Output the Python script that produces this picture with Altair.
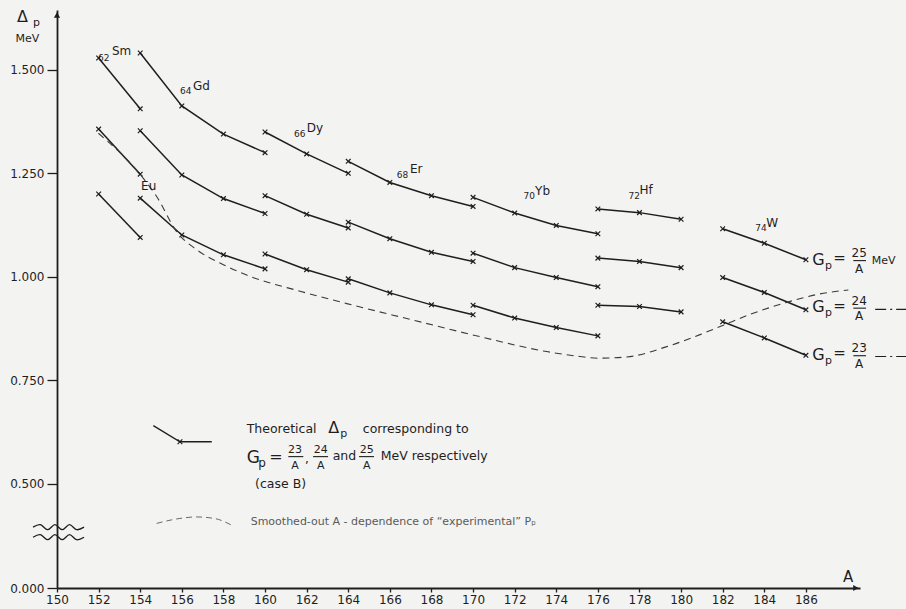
import altair as alt
import pandas as pd

INK = "#1e1e1e"
SOFT = "#5a5a5a"
FONT = "DejaVu Sans"

# Mass numbers of the calculated points, grouped by nucleus
A_SM = [152, 154]
A_GD = [154, 156, 158, 160]
A_DY = [160, 162, 164]
A_ER = [164, 166, 168, 170]
A_YB = [170, 172, 174, 176]
A_HF = [176, 178, 180]
A_W = [182, 184, 186]
NUCLEI = ["Sm", "Gd", "Dy", "Er", "Yb", "Hf", "W"]
A_GROUPS = [A_SM, A_GD, A_DY, A_ER, A_YB, A_HF, A_W]

# Theoretical pairing gap (MeV) for G_p = 25/A, 24/A, 23/A, same order as above
DELTA_25 = [1.529, 1.406,
            1.541, 1.413, 1.345, 1.300,
            1.350, 1.297, 1.250,
            1.279, 1.228, 1.196, 1.170,
            1.192, 1.154, 1.124, 1.104,
            1.164, 1.155, 1.139,
            1.116, 1.081, 1.041]
DELTA_24 = [1.357, 1.248,
            1.353, 1.246, 1.189, 1.153,
            1.196, 1.151, 1.118,
            1.132, 1.092, 1.059, 1.037,
            1.057, 1.022, 0.998, 0.976,
            1.045, 1.037, 1.022,
            0.998, 0.962, 0.920]
DELTA_23 = [1.200, 1.095,
            1.190, 1.101, 1.053, 1.019,
            1.055, 1.017, 0.987,
            0.995, 0.961, 0.932, 0.908,
            0.931, 0.900, 0.877, 0.857,
            0.931, 0.928, 0.915,
            0.891, 0.852, 0.810]

# Smoothed-out A-dependence of the experimental gap
EXP_A = [151.99, 154.15, 154.79, 155.75, 156.72, 157.84, 159.12, 161.68, 163.93,
         167.13, 170.34, 173.54, 175.14, 176.01, 177.39, 179.31, 180.91, 182.0,
         183.32, 185.08, 186.52, 188.04]
EXP_DELTA = [1.347, 1.238, 1.194, 1.109, 1.065, 1.033, 1.004, 0.965, 0.935,
             0.895, 0.855, 0.819, 0.807, 0.803, 0.806, 0.831, 0.860, 0.882,
             0.909, 0.938, 0.957, 0.968]

X_TICKS = list(range(150, 188, 2))
Y_TICKS = [0.0, 0.5, 0.75, 1.0, 1.25, 1.5]

# ---- tables -------------------------------------------------------------
a_all, nuc_all = [], []
for name, grp in zip(NUCLEI, A_GROUPS):
    a_all += grp
    nuc_all += [name] * len(grp)

rows = []
for g, deltas in (("25", DELTA_25), ("24", DELTA_24), ("23", DELTA_23)):
    for a, n, d in zip(a_all, nuc_all, deltas):
        rows.append({"A": a, "delta": d, "curve": g + n})
theory = pd.DataFrame(rows)
experiment = pd.DataFrame({"A": EXP_A, "delta": EXP_DELTA})

x_scale = alt.Scale(domain=[150, 188.6], nice=False, zero=False)
# broken ordinate: 0 to 0.5 is compressed below the break
y_scale = alt.Scale(domain=[0, 0.5, 1.645], range=[578, 473.5, 0], nice=False, zero=False)


def X(field="A"):
    return alt.X(f"{field}:Q", scale=x_scale, title=None)


def Y(field="delta"):
    return alt.Y(f"{field}:Q", scale=y_scale, title=None)


lines = alt.Chart(theory).mark_line(color=INK, strokeWidth=1.5).encode(
    x=alt.X("A:Q", scale=x_scale, title=None,
            axis=alt.Axis(values=X_TICKS, format="d")),
    y=alt.Y("delta:Q", scale=y_scale, title=None,
            axis=alt.Axis(values=Y_TICKS, format=".3f")),
    detail="curve:N",
    order="A:Q",
)

CROSS = "M-1,-1L1,1M-1,1L1,-1"
points = alt.Chart(theory).mark_point(shape=CROSS, filled=False, size=22,
                                      strokeWidth=1.2, color=INK, opacity=1).encode(
    x=X(), y=Y())

dashed = alt.Chart(experiment).mark_line(color="#3a3a3a", strokeWidth=1.1,
                                         strokeDash=[7, 5], interpolate="monotone").encode(
    x=X(), y=Y(), order="A:Q")

# ---- key ------------------------------------------------------------------
key_line = pd.DataFrame({"A": [154.63, 155.91, 157.44], "delta": [0.640, 0.601, 0.601]})
key_solid = alt.Chart(key_line).mark_line(color=INK, strokeWidth=1.3).encode(
    x=X(), y=Y(), order="A:Q")
key_cross = alt.Chart(key_line.iloc[[1]]).mark_point(shape=CROSS, filled=False, size=22,
                                                      strokeWidth=1.2, color=INK,
                                                      opacity=1).encode(x=X(), y=Y())
key_arc = pd.DataFrame({"A": [154.79, 155.67, 156.72, 157.6, 158.48],
                        "delta": [0.309, 0.329, 0.340, 0.332, 0.296]})
key_dashed = alt.Chart(key_arc).mark_line(color="#6a6a6a", strokeWidth=1.0,
                                          strokeDash=[6, 4], interpolate="monotone").encode(
    x=X(), y=Y(), order="A:Q")

# ---- axis break and arrows ---------------------------------------------
wave_a = [148.85, 149.2, 149.55, 149.9, 150.25, 150.6, 150.95, 151.3]
wave_off = [0.0, 0.012, -0.012, 0.012, -0.012, 0.012, -0.012, 0.0]
wave_rows = []
for base, tag in ((0.291, "upper"), (0.243, "lower")):
    for a, o in zip(wave_a, wave_off):
        wave_rows.append({"A": a, "delta": base + o, "w": tag})
waves = alt.Chart(pd.DataFrame(wave_rows)).mark_line(
    color=INK, strokeWidth=1.3, interpolate="cardinal").encode(
    x=X(), y=Y(), detail="w:N", order="A:Q")

arrow_up = alt.Chart(pd.DataFrame({"A": [150.0], "delta": [1.633]})).mark_point(
    shape="triangle-up", filled=True, size=38, color=INK, opacity=1).encode(x=X(), y=Y())
arrow_right = alt.Chart(pd.DataFrame({"A": [188.4], "delta": [0.0]})).mark_point(
    shape="triangle-right", filled=True, size=38, color=INK, opacity=1).encode(x=X(), y=Y())

# dash-dot leaders to the right of the 24/A and 23/A labels
leader = pd.DataFrame({"A": [189.33, 190.9, 189.33, 190.9],
                       "delta": [0.921, 0.921, 0.807, 0.807],
                       "k": ["24", "24", "23", "23"]})
leaders = alt.Chart(leader).mark_line(color=INK, strokeWidth=1.1,
                                      strokeDash=[11, 4, 2, 4]).encode(
    x=X(), y=Y(), detail="k:N")

# fraction bars
bars = pd.DataFrame({
    "A": [188.28, 188.28, 188.28, 161.12, 162.31, 164.52],
    "A2": [188.89, 188.89, 188.89, 161.84, 163.03, 165.24],
    "delta": [1.039, 0.924, 0.809, 0.565, 0.565, 0.565],
})
fraction_bars = alt.Chart(bars).mark_rule(color=INK, strokeWidth=1.1).encode(
    x=X(), x2="A2:Q", y=Y())

# ---- text -----------------------------------------------------------------
# (text, A, delta, font size, colour)
LEFT_TEXT = [
    ("62", 151.97, 1.522, 9, INK), ("Sm", 152.64, 1.536, 12, INK),
    ("64", 155.91, 1.442, 9, INK), ("Gd", 156.54, 1.452, 12, INK),
    ("66", 161.39, 1.339, 9, INK), ("Dy", 162.0, 1.349, 12, INK),
    ("68", 166.33, 1.238, 9, INK), ("Er", 166.97, 1.250, 12, INK),
    ("70", 172.42, 1.188, 9, INK), ("Yb", 172.98, 1.198, 12, INK),
    ("72", 177.47, 1.188, 9, INK), ("Hf", 178.0, 1.200, 12, INK),
    ("74", 183.56, 1.111, 9, INK), ("W", 184.09, 1.120, 12, INK),
    ("Eu", 154.04, 1.210, 12, INK),
    ("Δ", 148.08, 1.616, 16, INK), ("p", 148.85, 1.606, 11, INK),
    # right-hand labels
    ("G", 186.3, 1.029, 16, INK), ("p", 186.92, 1.019, 11, INK),
    ("MeV", 189.17, 1.031, 11, INK),
    ("G", 186.3, 0.914, 16, INK), ("p", 186.92, 0.904, 11, INK),
    ("G", 186.3, 0.799, 16, INK), ("p", 186.92, 0.789, 11, INK),
    # key
    ("Theoretical", 159.12, 0.622, 12.5, INK),
    ("Δ", 163.04, 0.622, 16, INK), ("p", 163.61, 0.612, 11, INK),
    ("corresponding to", 164.70, 0.622, 12.5, INK),
    ("G", 159.12, 0.550, 17, INK), ("p", 159.68, 0.541, 12, INK),
    (",", 161.92, 0.550, 12, INK),
    ("and", 163.25, 0.556, 12.5, INK),
    ("MeV respectively", 165.56, 0.556, 12.5, INK),
    ("(case B)", 159.52, 0.477, 12.5, INK),
    ("Smoothed-out   A - dependence of “experimental” Pₚ", 159.31, 0.300, 11, SOFT),
]
CENTER_TEXT = [
    ("MeV", 148.58, 1.568, 11, INK),
    ("A", 188.03, 0.028, 15, INK),
    ("25", 188.56, 1.047, 12, INK), ("A", 188.56, 1.010, 12, INK),
    ("24", 188.56, 0.932, 12, INK), ("A", 188.56, 0.895, 12, INK),
    ("23", 188.56, 0.817, 12, INK), ("A", 188.56, 0.780, 12, INK),
    ("23", 161.44, 0.573, 11, INK), ("A", 161.44, 0.535, 11, INK),
    ("24", 162.68, 0.573, 11, INK), ("A", 162.68, 0.535, 11, INK),
    ("25", 164.89, 0.573, 11, INK), ("A", 164.89, 0.535, 11, INK),
]
MIDDLE_TEXT = [
    ("=", 187.62, 1.045, 15, INK),
    ("=", 187.62, 0.930, 15, INK),
    ("=", 187.62, 0.815, 15, INK),
    ("=", 160.53, 0.564, 16, INK),
]


def text_layer(items, align, baseline):
    df = pd.DataFrame(items, columns=["label", "A", "delta", "fs", "col"])
    return alt.Chart(df).mark_text(align=align, baseline=baseline, font=FONT).encode(
        x=X(), y=Y(), text="label:N",
        size=alt.Size("fs:Q", scale=None),
        color=alt.Color("col:N", scale=None),
    )


texts = [
    text_layer(LEFT_TEXT, "left", "alphabetic"),
    text_layer(CENTER_TEXT, "center", "alphabetic"),
    text_layer(MIDDLE_TEXT, "center", "middle"),
]

chart = alt.layer(
    lines, points, dashed, key_solid, key_cross, key_dashed, waves,
    arrow_up, arrow_right, leaders, fraction_bars, *texts,
).properties(
    width=803, height=578,
    autosize=alt.AutoSizeParams(type="none"),
    padding={"left": 57, "top": 10, "right": 46, "bottom": 21},
    background="#f3f3f2",
).configure_view(
    strokeWidth=0
).configure_axis(
    grid=False, labelFont=FONT, labelFontSize=12, labelColor=INK,
    tickColor=INK, domainColor=INK, domainWidth=1.8, tickWidth=1.3,
    labelFlush=False, labelOverlap=False,
).configure_axisX(
    tickSize=4, labelPadding=2,
).configure_axisY(
    tickSize=10, labelPadding=3,
)

chart.save("out.html", embed_options={"renderer": "svg", "actions": False})
